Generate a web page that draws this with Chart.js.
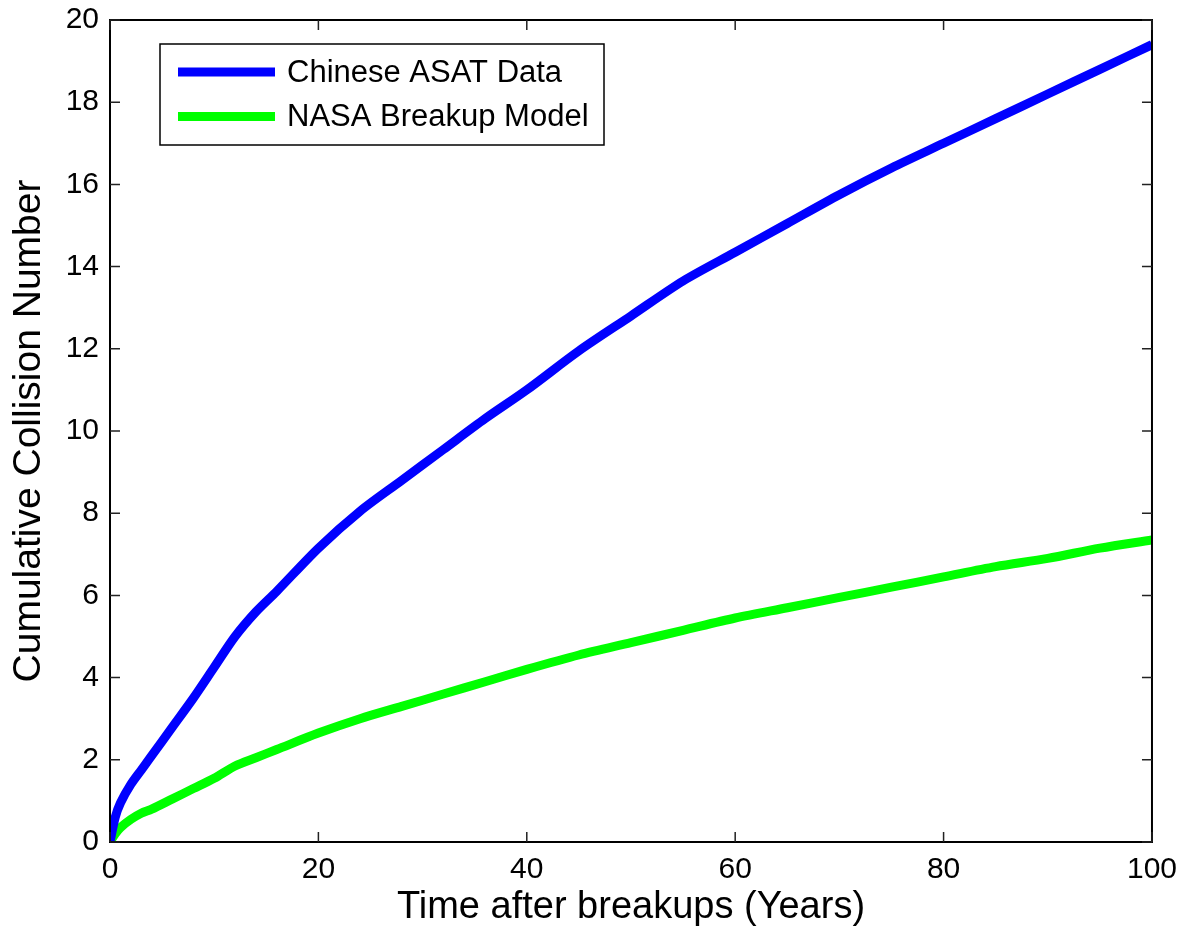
<!DOCTYPE html>
<html>
<head>
<meta charset="utf-8">
<script src="https://cdn.jsdelivr.net/npm/chart.js@4/dist/chart.umd.min.js"></script>
<style>
  html, body { margin: 0; padding: 0; background: #fff; }
  #wrap { width: 1185px; height: 934px; }
</style>
</head>
<body>
<div id="wrap"><canvas id="chart" width="1185" height="934"></canvas></div>
<script>
// years after breakup
var years = [0, 0.5, 1, 2, 3, 4, 6, 8, 10, 12, 14, 16, 20, 24, 28, 32, 36, 40, 45, 50, 55, 60, 65, 70, 75, 80, 85, 90, 95, 100];
var asatData = [0, 0.6, 0.95, 1.4, 1.75, 2.1, 2.8, 3.5, 4.25, 5.0, 5.6, 6.1, 7.15, 8.05, 8.8, 9.55, 10.3, 11.0, 11.95, 12.8, 13.65, 14.35, 15.05, 15.75, 16.4, 17.0, 17.6, 18.2, 18.8, 19.4];
var nasaModel = [0, 0.2, 0.35, 0.55, 0.7, 0.8, 1.05, 1.3, 1.55, 1.85, 2.05, 2.25, 2.65, 3.0, 3.3, 3.6, 3.9, 4.2, 4.55, 4.85, 5.15, 5.45, 5.7, 5.95, 6.2, 6.45, 6.7, 6.9, 7.15, 7.35];
var xTicks = [0, 20, 40, 60, 80, 100];
var yTicks = [0, 2, 4, 6, 8, 10, 12, 14, 16, 18, 20];

function pts(ys){
    return years.map(function(x, i){ return {x: x, y: ys[i]}; });
}

var FONT = 'Liberation Sans, Arial, Helvetica, sans-serif';

// matlab style: box with inward ticks on all four sides
var boxTicks = {
    id: 'boxTicks',
    afterDraw: function(chart){
        var ctx = chart.ctx, a = chart.chartArea;
        var xs = chart.scales.x, ys = chart.scales.y;
        ctx.save();
        ctx.strokeStyle = '#000';
        ctx.lineWidth = 2;
        ctx.strokeRect(a.left, a.top, a.right - a.left, a.bottom - a.top);
        ctx.lineWidth = 1.5;
        ctx.strokeStyle = '#222';
        ctx.beginPath();
        xTicks.forEach(function(v){
            var p = xs.getPixelForValue(v);
            ctx.moveTo(p, a.bottom); ctx.lineTo(p, a.bottom - 10);
            ctx.moveTo(p, a.top); ctx.lineTo(p, a.top + 10);
        });
        yTicks.forEach(function(v){
            var p = ys.getPixelForValue(v);
            ctx.moveTo(a.left, p); ctx.lineTo(a.left + 10, p);
            ctx.moveTo(a.right, p); ctx.lineTo(a.right - 10, p);
        });
        ctx.stroke();

        // legend box
        var lx = 160, ly = 44, lw = 444, lh = 101;
        ctx.fillStyle = '#fff';
        ctx.fillRect(lx, ly, lw, lh);
        ctx.strokeStyle = '#000';
        ctx.lineWidth = 1.5;
        ctx.strokeRect(lx, ly, lw, lh);
        ctx.font = '31px ' + FONT;
        ctx.textBaseline = 'middle';
        chart.data.datasets.forEach(function(ds, i){
            var yy = 72 + i * 44.5;
            ctx.strokeStyle = ds.borderColor;
            ctx.lineWidth = 9;
            ctx.beginPath();
            ctx.moveTo(178, yy); ctx.lineTo(275, yy);
            ctx.stroke();
            ctx.fillStyle = '#000';
            ctx.fillText(ds.label, 287, yy + 1);
        });
        ctx.restore();
    }
};

new Chart(document.getElementById('chart'), {
    type: 'line',
    data: {
        datasets: [
            {
                label: 'Chinese ASAT Data',
                data: pts(asatData),
                borderColor: '#0000ff',
                borderWidth: 9,
                pointRadius: 0,
                tension: 0.3,
                fill: false
            },
            {
                label: 'NASA Breakup Model',
                data: pts(nasaModel),
                borderColor: '#00ff00',
                borderWidth: 9,
                pointRadius: 0,
                tension: 0.3,
                fill: false
            }
        ]
    },
    options: {
        responsive: false,
        animation: false,
        layout: { padding: { left: 0, right: 33, top: 20, bottom: 0 } },
        plugins: { legend: { display: false }, tooltip: { enabled: false } },
        scales: {
            x: {
                type: 'linear',
                min: 0, max: 100,
                afterBuildTicks: function(s){ s.ticks = xTicks.map(function(v){ return {value: v}; }); },
                afterFit: function(s){ s.height = 92; },
                grid: { display: false, drawTicks: false },
                border: { display: false },
                ticks: { color: '#000', font: { family: FONT, size: 30, lineHeight: 1.33 }, padding: 8, maxRotation: 0 },
                title: { display: true, text: 'Time after breakups (Years)', color: '#000', font: { family: FONT, size: 38 }, padding: { top: 0, bottom: 4 } }
            },
            y: {
                min: 0, max: 20,
                afterBuildTicks: function(s){ s.ticks = yTicks.map(function(v){ return {value: v}; }); },
                afterFit: function(s){ s.width = 110; },
                grid: { display: false, drawTicks: false },
                border: { display: false },
                ticks: { color: '#000', font: { family: FONT, size: 30, lineHeight: 0.5 }, padding: 11 },
                title: { display: true, text: 'Cumulative Collision Number', color: '#000', font: { family: FONT, size: 39 }, padding: { top: 6, bottom: 0 } }
            }
        }
    },
    plugins: [boxTicks]
});
</script>
</body>
</html>
